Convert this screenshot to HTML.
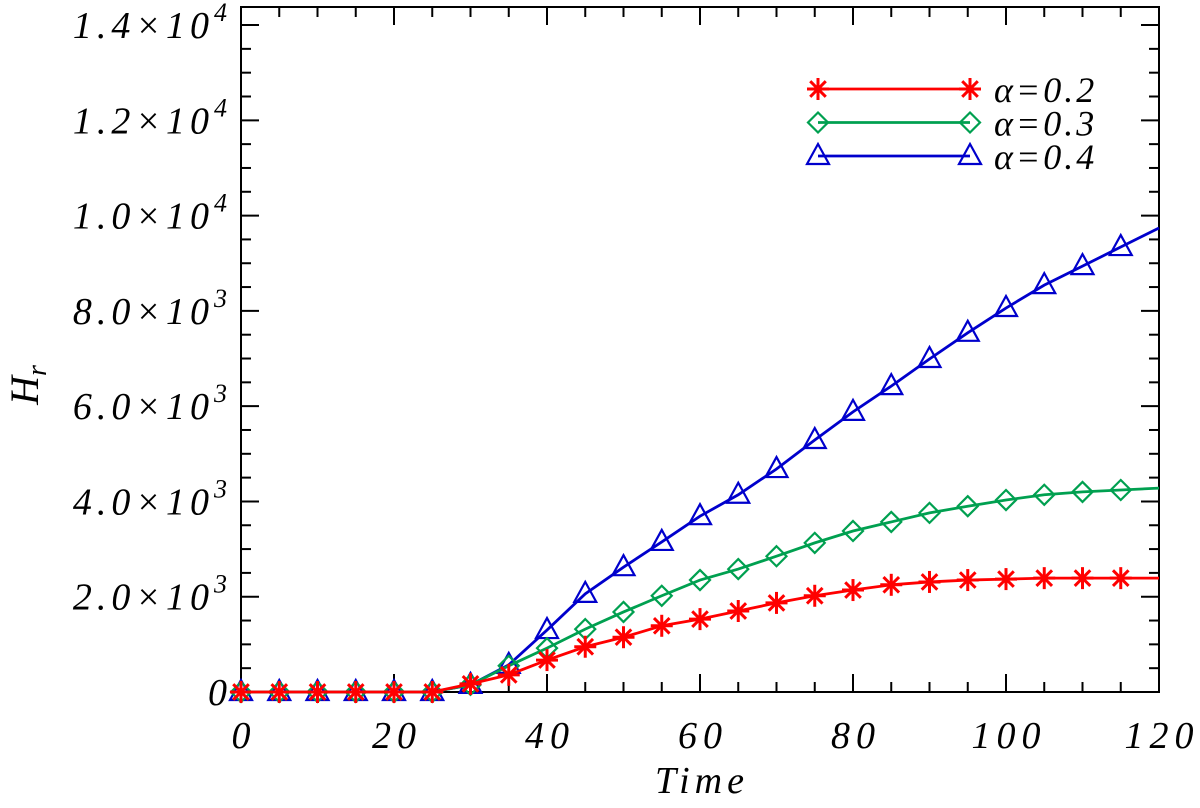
<!DOCTYPE html>
<html><head><meta charset="utf-8"><style>
body{margin:0;background:#fff}
svg text{font-family:"Liberation Serif",serif;font-style:italic;fill:#000}
</style></head><body>
<svg width="1200" height="803" xmlns="http://www.w3.org/2000/svg">
<g id="axes"></g>
<g id="series"></g>
<g id="legend"></g>
<text x="702" y="793" font-size="38" letter-spacing="5" text-anchor="middle">Time</text>
<text transform="translate(38,385) rotate(-90)" font-size="40" text-anchor="middle">H<tspan font-size="28" dy="8">r</tspan></text>
</svg>
<script>
const times=[0,5,10,15,20,25,30,35,40,45,50,55,60,65,70,75,80,85,90,95,100,105,110,115,120];
const red=[0,0,0,0,0,0,170,360,670,950,1150,1390,1530,1700,1870,2020,2140,2250,2310,2350,2370,2390,2390,2390,2390];
const green=[0,0,0,0,0,0,150,550,920,1320,1680,2020,2350,2580,2850,3130,3380,3570,3760,3900,4030,4140,4200,4240,4280];
const blue=[0,0,0,0,0,0,150,570,1300,2060,2620,3150,3690,4140,4680,5290,5880,6420,6990,7540,8060,8540,8940,9340,9740];
const xTicks=[0,20,40,60,80,100,120];
const yTicks=[0,2000,4000,6000,8000,10000,12000,14000];
const yLabels=["0","2.0×10|3","4.0×10|3","6.0×10|3","8.0×10|3","1.0×10|4","1.2×10|4","1.4×10|4"];
const labels=["α=0.2","α=0.3","α=0.4"];
const L=241,R=1159,T=7,B=692;
const X=v=>L+(v/120)*(R-L);
const Y=v=>B-v*0.04764;
const NS="http://www.w3.org/2000/svg";
function mk(t,a,p){const e=document.createElementNS(NS,t);for(const k in a)e.setAttribute(k,a[k]);p.appendChild(e);return e;}
const ax=document.getElementById('axes');
const fr=mk('rect',{x:L,y:T,width:R-L,height:B-T,fill:'none',stroke:'#000','stroke-width':2},ax);


for(let v=0;v<=120;v+=5){const maj=v%20==0;const len=maj?18:10;
 mk('line',{x1:X(v),x2:X(v),y1:B,y2:B-len,stroke:'#000','stroke-width':2},ax);
 mk('line',{x1:X(v),x2:X(v),y1:T,y2:T+len,stroke:'#000','stroke-width':2},ax);}
for(let v=0;v<=14380;v+=500){const maj=v%2000==0;const len=maj?18:10;
 mk('line',{y1:Y(v),y2:Y(v),x1:L,x2:L+len,stroke:'#000','stroke-width':2},ax);
 mk('line',{y1:Y(v),y2:Y(v),x1:R,x2:R-len,stroke:'#000','stroke-width':2},ax);}
xTicks.forEach(v=>{const t=mk('text',{x:X(v)+3,y:748,'font-size':38,'letter-spacing':6,'text-anchor':'middle'},ax);t.textContent=v;
 
 });
yTicks.forEach((v,i)=>{const t=mk('text',{x:232,y:Y(v)+13,'font-size':38,'letter-spacing':5,'text-anchor':'end'},ax);
 
 
 const p=yLabels[i].split('|');
 if(p.length==1){t.textContent=p[0];}else{t.appendChild(document.createTextNode(p[0]));const s=mk('tspan',{'font-size':26,dy:-17},t);s.textContent=p[1];}});
function marker(type,x,y,c,g){
 if(type=='star'){for(let a=0;a<4;a++){const an=a*Math.PI/4;mk('line',{x1:x-11*Math.cos(an),y1:y-11*Math.sin(an),x2:x+11*Math.cos(an),y2:y+11*Math.sin(an),stroke:c,'stroke-width':3},g);}}
 else if(type=='diamond'){mk('polygon',{points:`${x},${y-10} ${x+10},${y} ${x},${y+10} ${x-10},${y}`,fill:'none',stroke:c,'stroke-width':2.2},g);}
 else {mk('polygon',{points:`${x},${y-12} ${x+11},${y+8} ${x-11},${y+8}`,fill:'none',stroke:c,'stroke-width':2.2},g);}
}
const ser=document.getElementById('series');
const defs=[[blue,'#0000cc','tri','series-alpha-0.4'],[green,'#00a050','diamond','series-alpha-0.3'],[red,'#ff0000','star','series-alpha-0.2']];
defs.forEach(([d,c,m,n])=>{const g=mk('g',{},ser);
 
 
 mk('polyline',{points:d.map((v,i)=>X(times[i])+','+Y(v)).join(' '),fill:'none',stroke:c,'stroke-width':2.8},g);
 d.forEach((v,i)=>{if(times[i]<120)marker(m,X(times[i]),Y(v),c,g);});});
const lg=document.getElementById('legend');
[['#ff0000','star'],['#00a050','diamond'],['#0000cc','tri']].forEach(([c,m],i)=>{
 const y=89+i*33.5;const g=mk('g',{},lg);
 
 
 mk('line',{x1:818,x2:970,y1:y,y2:y,stroke:c,'stroke-width':2.8},g);
 marker(m,818,y,c,g);marker(m,970,y,c,g);
 const t=mk('text',{x:994,y:y+13,'font-size':36,'letter-spacing':3},g);t.textContent=labels[i];});
</script>
</body></html>
